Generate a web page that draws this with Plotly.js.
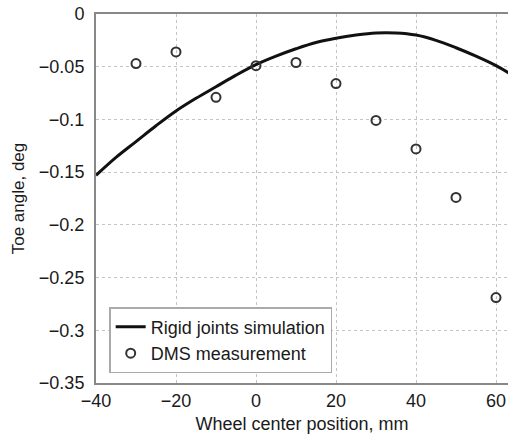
<!DOCTYPE html>
<html>
<head>
<meta charset="utf-8">
<script src="https://cdn.plot.ly/plotly-3.0.1.min.js"></script>
<style>html,body{margin:0;padding:0;background:#fff;}#chart{width:508px;height:434px;}</style>
</head>
<body>
<div id="chart"></div>
<script>
const simX = [-40, -35, -30, -25, -20, -15, -10, -5, 0, 5, 10, 15, 20, 25, 30, 35, 40, 45, 50, 55, 60, 65];
const simY = [-0.153, -0.136, -0.121, -0.106, -0.092, -0.080, -0.069, -0.058, -0.048, -0.040, -0.033, -0.027, -0.023, -0.020, -0.018, -0.018, -0.020, -0.025, -0.032, -0.040, -0.049, -0.060];
const dmsX = [-30, -20, -10, 0, 10, 20, 30, 40, 50, 60];
const dmsY = [-0.047, -0.036, -0.079, -0.049, -0.046, -0.066, -0.101, -0.128, -0.174, -0.269];
const yTickVals = [0, -0.05, -0.1, -0.15, -0.2, -0.25, -0.3, -0.35];
const yTickText = ['0', '\u22120.05', '\u22120.1', '\u22120.15', '\u22120.2', '\u22120.25', '\u22120.3', '\u22120.35'];
const xTickVals = [-40, -20, 0, 20, 40, 60];
const xTickText = ['\u221240', '\u221220', '0', '20', '40', '60'];

const fam = 'Liberation Sans, Arial, sans-serif';
const txt = '#1a1a1a';

const data = [
  {x: simX, y: simY, mode: 'lines', name: 'Rigid joints simulation',
   line: {color: '#111', width: 3, shape: 'spline'}},
  {x: dmsX, y: dmsY, mode: 'markers', name: 'DMS measurement',
   marker: {symbol: 'circle-open', size: 9, color: '#333', line: {width: 2, color: '#333'}}}
];

const layout = {
  width: 508, height: 434,
  margin: {l: 96, r: 0, t: 14, b: 51},
  paper_bgcolor: '#fff', plot_bgcolor: '#fff',
  font: {family: fam, size: 18, color: txt},
  showlegend: true,
  legend: {x: 0.032, y: 0.027, xanchor: 'left', yanchor: 'bottom',
           bgcolor: '#fff', bordercolor: '#aaa', borderwidth: 1.5,
           font: {family: fam, size: 18, color: txt},
           tracegroupgap: 0},
  xaxis: {range: [-40, 63], tickvals: xTickVals, ticktext: xTickText,
          showline: true, linecolor: '#888', linewidth: 2, mirror: true,
          showgrid: true, gridcolor: '#c4c4c4', griddash: 'dot', gridwidth: 1,
          zeroline: false, ticks: '', ticklen: 0,
          tickfont: {family: fam, size: 18, color: txt},
          title: {text: 'Wheel center position, mm', standoff: 8,
                  font: {family: fam, size: 18, color: txt}}},
  yaxis: {range: [-0.35, 0], tickvals: yTickVals, ticktext: yTickText,
          showline: true, linecolor: '#888', linewidth: 2, mirror: false,
          showgrid: true, gridcolor: '#c4c4c4', griddash: 'dot', gridwidth: 1,
          zeroline: false, ticks: '', ticklen: 0, ticklabelstandoff: 6,
          tickfont: {family: fam, size: 18, color: txt},
          title: {text: 'Toe angle, deg', standoff: 10,
                  font: {family: fam, size: 17, color: txt}}}
};

Plotly.newPlot('chart', data, layout, {displayModeBar: false, staticPlot: true});
</script>
</body>
</html>
